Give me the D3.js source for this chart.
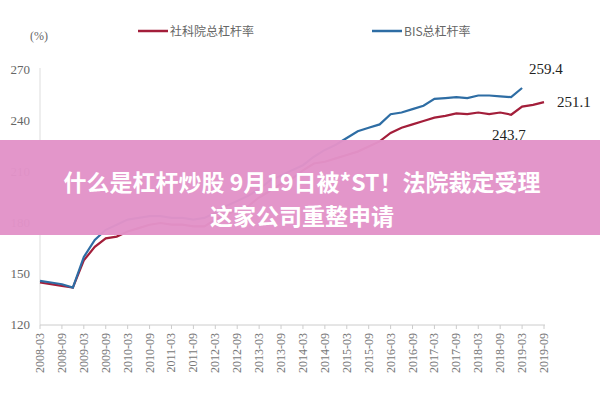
<!DOCTYPE html>
<html><head><meta charset="utf-8">
<script src="https://cdn.jsdelivr.net/npm/d3@7"></script>
<style>body{margin:0;background:#fff}</style>
</head><body><svg id="c" width="600" height="400"></svg>
<script>
// quarterly, 2008-03 .. 2019-09
const quarters = d3.range(47).map(i => {
  const y = 2008 + Math.floor(i / 4), m = [3, 6, 9, 12][i % 4];
  return `${y}-${String(m).padStart(2, '0')}`;
});
const tickLabels = quarters.filter((q, i) => i % 2 === 0);
const cassValues = [145,144,143,142,158,166,171,172,175,177,179,180,179,179,178,178,182,185,188,190,195,199,203,206,211,215,216,218,220,222,225,228,233,236,238,240,242,243,244.5,244,245,244,245,243.7,248.5,249.5,251.1];
const bisValues = [146,145,144,142,160,170,176,179,182,183,184,184,183,183,182,183,186,190,193,196,200,205,208,211,214,219,223,226,230,234,236,238,244,245,247,249,253,253.5,254,253.5,255,255,254.5,254,259.4];
const yTicks = [120, 150, 180, 210, 240, 270];

const svg = d3.select('#c');
const x = d3.scalePoint().domain(quarters).range([40, 544]);
const y = d3.scaleLinear().domain([120, 270]).range([325, 70]);
const serif = '"Liberation Serif", serif';

// axes
svg.append('line').attr('x1', 40).attr('x2', 40).attr('y1', 68).attr('y2', 325).attr('stroke', '#ddd');
svg.append('line').attr('x1', 40).attr('x2', 545).attr('y1', 325).attr('y2', 325).attr('stroke', '#ccc');
svg.selectAll('.tk').data(tickLabels).join('line')
  .attr('x1', d => x(d)).attr('x2', d => x(d)).attr('y1', 325).attr('y2', 329).attr('stroke', '#ccc');
svg.selectAll('.yl').data(yTicks).join('text')
  .attr('x', 30).attr('y', d => y(d) + 4).attr('text-anchor', 'end')
  .attr('font-family', serif).attr('font-size', 13).attr('fill', '#666').text(d => d);
svg.selectAll('.xl').data(tickLabels).join('text')
  .attr('transform', d => `translate(${x(d) + 4},333) rotate(-90)`)
  .attr('text-anchor', 'end').attr('font-family', serif).attr('font-size', 12).attr('fill', '#777').text(d => d);
svg.append('text').attr('x', 30).attr('y', 40).attr('font-family', serif).attr('font-size', 12).attr('fill', '#666').text('(%)');

// lines
const line = d3.line().x((d, i) => x(quarters[i])).y(d => y(d));
svg.append('path').datum(cassValues).attr('d', line).attr('fill', 'none').attr('stroke', '#a31e3a').attr('stroke-width', 2.2);
svg.append('path').datum(bisValues).attr('d', line).attr('fill', 'none').attr('stroke', '#2e6da4').attr('stroke-width', 2.2);

// legend
[['#a31e3a', '社科院总杠杆率', 138], ['#2e6da4', 'BIS总杠杆率', 372]].forEach(([c, t, lx]) => {
  svg.append('line').attr('x1', lx).attr('x2', lx + 30).attr('y1', 31).attr('y2', 31).attr('stroke', c).attr('stroke-width', 2.5);
  svg.append('text').attr('x', lx + 32).attr('y', 36).attr('font-family', '"Noto Sans CJK SC"').attr('font-size', 12).attr('fill', '#666').text(t);
});

// annotations
const ann = [[259.4, 529, 74], [251.1, 557, 107], [243.7, 492, 140]];
svg.selectAll('.an').data(ann).join('text')
  .attr('x', d => d[1]).attr('y', d => d[2]).attr('font-family', serif).attr('font-size', 15).attr('fill', '#222').text(d => d[0]);

// banner
svg.append('rect').attr('x', 0).attr('y', 140).attr('width', 600).attr('height', 95).attr('fill', '#e293c8').attr('opacity', 0.97);
[['什么是杠杆炒股 9月19日被*ST！法院裁定受理', 191], ['这家公司重整申请', 225]].forEach(([t, ty]) => {
  svg.append('text').attr('x', 302).attr('y', ty).attr('text-anchor', 'middle')
    .attr('font-family', '"Noto Sans CJK SC"').attr('font-weight', 'bold').attr('font-size', 23).attr('fill', '#fff').text(t);
});
</script></body></html>
